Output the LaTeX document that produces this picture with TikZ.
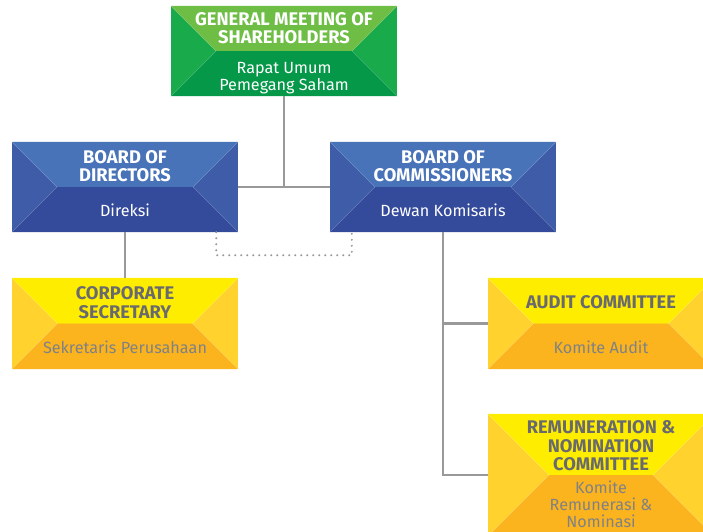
\documentclass[tikz,border=0pt]{standalone}
\usepackage{fontspec}
\setmainfont{Fira Sans}
\usetikzlibrary{calc}

\definecolor{gTop}{RGB}{110,190,70}
\definecolor{gSide}{RGB}{25,170,75}
\definecolor{gBot}{RGB}{5,152,72}
\definecolor{bTop}{RGB}{72,115,185}
\definecolor{bSide}{RGB}{62,92,168}
\definecolor{bBot}{RGB}{52,74,155}
\definecolor{yTop}{RGB}{255,237,0}
\definecolor{ySide}{RGB}{255,210,46}
\definecolor{yBot}{RGB}{251,180,30}
\definecolor{inkGray}{RGB}{105,106,110}
\definecolor{subGray}{RGB}{128,129,133}
\definecolor{lineGray}{RGB}{153,153,153}

\tikzset{
  conn/.style={draw=lineGray, line width=2.6pt},
  dotconn/.style={draw=lineGray, line width=2.2pt, line cap=round, dash pattern=on 0pt off 6pt},
  titletext/.style={align=center, font=\fontsize{18.3}{18.5}\selectfont\bfseries, inner sep=0pt},
  subtext/.style={align=center, font=\fontsize{16.2}{16.8}\selectfont, inner sep=0pt},
  seam/.style={draw=white, draw opacity=0.25, line width=0.5pt}
}

% #1 name, #2/#3 centre, #4 width, #5 height, #6 top, #7 sides, #8 bottom
\newcommand\prismbox[8]{%
  \node[minimum width=#4pt, minimum height=#5pt, inner sep=0pt, fill=#7] (#1) at (#2,#3) {};
  \pgfmathsetmacro\insetdx{#4/2-#5/2}%
  \fill[#6] (#1.north west) -- (#1.north east)
     -- ([xshift=\insetdx pt]#1.center) -- ([xshift=-\insetdx pt]#1.center) -- cycle;
  \fill[#8] (#1.south west) -- (#1.south east)
     -- ([xshift=\insetdx pt]#1.center) -- ([xshift=-\insetdx pt]#1.center) -- cycle;
  \draw[seam] (#1.north west) -- ([xshift=-\insetdx pt]#1.center) -- (#1.south west);
  \draw[seam] (#1.north east) -- ([xshift=\insetdx pt]#1.center) -- (#1.south east);
}

\begin{document}
\begin{tikzpicture}[x=1pt,y=-1pt]
\useasboundingbox (0,0) rectangle (703,531);
\clip (0,0) rectangle (703,531);

% boxes
\prismbox{gms}{284}{51}{226}{90}{gTop}{gSide}{gBot}
\prismbox{bod}{125}{187}{226}{90}{bTop}{bSide}{bBot}
\prismbox{boc}{443}{187}{226}{90}{bTop}{bSide}{bBot}
\prismbox{cs}{125}{323.5}{226}{91}{yTop}{ySide}{yBot}
\prismbox{audit}{601}{323.5}{226}{91}{yTop}{ySide}{yBot}
\prismbox{rem}{601}{475}{226}{122}{yTop}{ySide}{yBot}

% connectors
\draw[conn] (gms.south) -- (gms.south |- bod.east);
\draw[conn] (bod.east) -- (boc.west);
\draw[conn] (bod.south) -- (cs.north);
\draw[conn] (boc.south) |- (rem.west);
\draw[conn] (boc.south |- audit.west) -- (audit.west);
\coordinate (dotA) at ([xshift=-22pt]bod.south east);
\coordinate (dotB) at ([xshift=22pt]boc.south west);
\draw[dotconn] (dotA) -- ++(0,23) -| (dotB);

% texts
\node[titletext, text=white] (gmsT) at (284,28) {GENERAL MEETING OF\\SHAREHOLDERS};
\node[subtext, text=white] (gmsS) at (284,78.5) {Rapat Umum\\Pemegang Saham};
\node[titletext, text=white] (bodT) at (125,166) {BOARD OF\\DIRECTORS};
\node[subtext, text=white] (bodS) at (125,210) {Direksi};
\node[titletext, text=white] (bocT) at (443,166) {BOARD OF\\COMMISSIONERS};
\node[subtext, text=white] (bocS) at (443,210) {Dewan Komisaris};
\node[titletext, text=inkGray] (csT) at (125,302.5) {CORPORATE\\SECRETARY};
\node[subtext, text=subGray] (csS) at (125,347) {Sekretaris Perusahaan};
\node[titletext, text=inkGray] (auditT) at (601,302) {AUDIT COMMITTEE};
\node[subtext, text=subGray] (auditS) at (601,347) {Komite Audit};
\node[titletext, text=inkGray] (remT) at (601,446) {REMUNERATION \&\\NOMINATION\\COMMITTEE};
\node[subtext, text=subGray] (remS) at (601,504) {Komite\\Remunerasi \&\\Nominasi};
\end{tikzpicture}
\end{document}
